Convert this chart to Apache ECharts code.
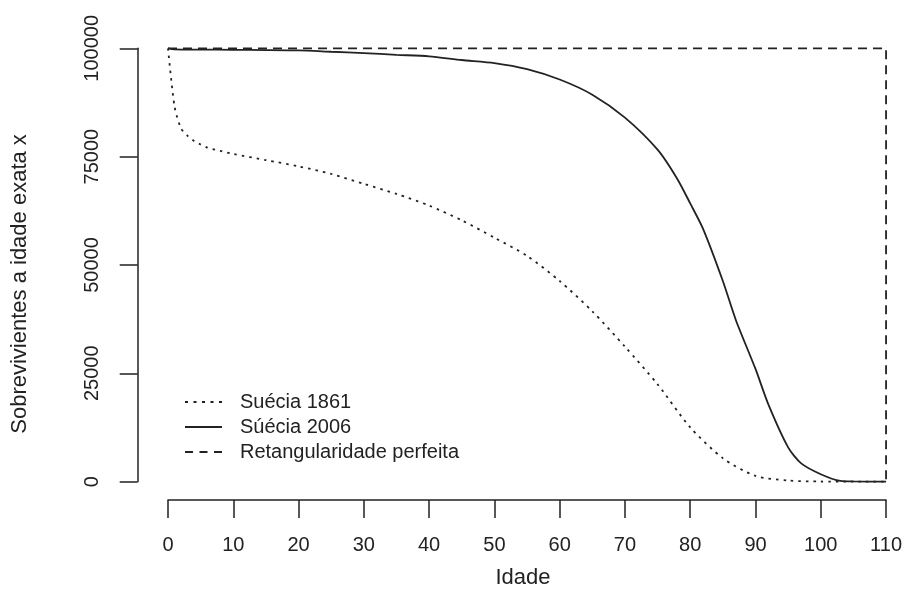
<!DOCTYPE html>
<html>
<head>
<meta charset="utf-8">
<script src="https://cdn.jsdelivr.net/npm/echarts@6/dist/echarts.min.js"></script>
<style>
  html, body { margin: 0; padding: 0; background: #ffffff; }
  #chart { width: 905px; height: 594px; }
</style>
</head>
<body>
<div id="chart"></div>
<script>
// Survivors to exact age x (radix 100000), Sweden
const ages1861 = [0, 1, 2, 3, 4, 5, 6, 8, 10, 15, 20, 25, 30, 35, 40, 45, 50, 55, 60, 65, 70, 75, 80, 85, 90, 95, 100, 105, 110];
const surv1861 = [100000, 86600, 81500, 79800, 78600, 77800, 77100, 76300, 75600, 74200, 72750, 71000, 68700, 66400, 63700, 60300, 56300, 52100, 46300, 39300, 31150, 22450, 12500, 5400, 1300, 250, 20, 0, 0];

const ages2006 = [0, 1, 5, 10, 15, 20, 25, 30, 35, 40, 45, 50, 55, 60, 65, 70, 75, 78, 80, 82, 85, 87, 90, 92, 95, 97, 100, 103, 105, 110];
const surv2006 = [100000, 99750, 99700, 99650, 99600, 99500, 99200, 98900, 98500, 98150, 97300, 96600, 95200, 92800, 89300, 84000, 76600, 69900, 64200, 58230, 46300, 37250, 26000, 17700, 7900, 4200, 1700, 150, 30, 0];

// Perfect rectangularity: everyone survives to 110, then all die
const agesRect = [0, 110, 110];
const survRect = [100000, 100000, 0];

const xTicks = { min: 0, max: 110, step: 10 };
const yTicks = { min: 0, max: 100000, step: 25000 };

const seriesNames = ['Suécia 1861', 'Súécia 2006', 'Retangularidade perfeita'];

const pairs = (xs, ys) => xs.map((x, i) => [x, ys[i]]);

const FONT = '"Liberation Sans", Arial, sans-serif';
const INK = '#222222';

const chart = echarts.init(document.getElementById('chart'), null, { renderer: 'canvas' });

chart.setOption({
  backgroundColor: '#ffffff',
  animation: false,
  grid: { left: 168, right: 18.3, top: 48.3, bottom: 110.7, containLabel: false },
  legend: {
    orient: 'vertical',
    left: 185,
    top: 392,
    padding: 0,
    itemWidth: 37,
    itemHeight: 2,
    itemGap: 5,
    selectedMode: false,
    textStyle: { fontFamily: FONT, fontSize: 20, color: INK, padding: [0, 0, 0, 13] },
    data: [
      { name: seriesNames[0], icon: 'path://M0,0h3v2h-3zM8.5,0h3v2h-3zM17,0h3v2h-3zM25.5,0h3v2h-3zM34,0h3v2h-3z' },
      { name: seriesNames[1], icon: 'path://M0,0h37v2h-37z' },
      { name: seriesNames[2], icon: 'path://M0,0h8v2h-8zM14.5,0h8v2h-8zM29,0h8v2h-8z' }
    ]
  },
  xAxis: {
    type: 'value',
    min: xTicks.min,
    max: xTicks.max,
    interval: xTicks.step,
    position: 'bottom',
    offset: 18.4,
    name: 'Idade',
    nameLocation: 'middle',
    nameGap: 67,
    nameTextStyle: { fontFamily: FONT, fontSize: 22, color: INK, padding: [0, 8, 0, 0] },
    axisLine: { show: true, onZero: false, lineStyle: { color: INK, width: 1.5 } },
    axisTick: { show: true, length: 18, lineStyle: { color: INK, width: 1.5 } },
    axisLabel: { fontFamily: FONT, fontSize: 20, color: INK, margin: 35 },
    splitLine: { show: false }
  },
  yAxis: {
    type: 'value',
    min: yTicks.min,
    max: yTicks.max,
    interval: yTicks.step,
    position: 'left',
    offset: 30.3,
    name: 'Sobrevivientes a idade exata x',
    nameLocation: 'middle',
    nameRotate: 90,
    nameGap: 107,
    nameTextStyle: { fontFamily: FONT, fontSize: 22, color: INK, padding: [0, 38, 0, 0] },
    axisLine: { show: true, onZero: false, lineStyle: { color: INK, width: 1.5 } },
    axisTick: { show: true, length: 18, lineStyle: { color: INK, width: 1.5 } },
    axisLabel: { fontFamily: FONT, fontSize: 20, color: INK, margin: 35, rotate: 90, formatter: v => String(v) },
    splitLine: { show: false }
  },
  series: [
    {
      name: seriesNames[0],
      type: 'line',
      data: pairs(ages1861, surv1861),
      symbol: 'none',
      smooth: 0.25,
      clip: false,
      lineStyle: { color: INK, width: 1.8, type: [2.5, 5] },
      itemStyle: { color: INK }
    },
    {
      name: seriesNames[1],
      type: 'line',
      data: pairs(ages2006, surv2006),
      symbol: 'none',
      smooth: 0.25,
      clip: false,
      lineStyle: { color: INK, width: 1.8, type: 'solid' },
      itemStyle: { color: INK }
    },
    {
      name: seriesNames[2],
      type: 'line',
      data: pairs(agesRect, survRect),
      symbol: 'none',
      clip: false,
      lineStyle: { color: INK, width: 1.8, type: [9, 6] },
      itemStyle: { color: INK }
    }
  ]
});
</script>
</body>
</html>
